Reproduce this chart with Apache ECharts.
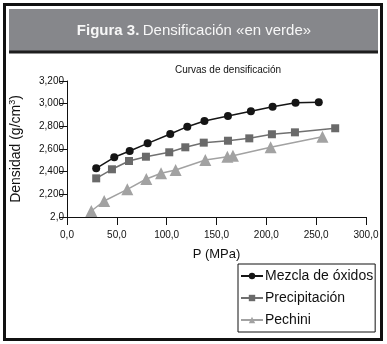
<!DOCTYPE html>
<html>
<head>
<meta charset="utf-8">
<script src="https://cdn.jsdelivr.net/npm/echarts@6/dist/echarts.min.js"></script>
<style>
html,body{margin:0;padding:0;background:#fff;}
#c{width:387px;height:344px;}
</style>
</head>
<body>
<div id="c"></div>
<script>
// Data
var mezclaP = [29.3, 47.4, 62.9, 80.9, 103.6, 120.7, 137.9, 161.5, 184.5, 206.3, 229.3, 252.6];
var mezclaD = [2430, 2527, 2582, 2650, 2732, 2797, 2847, 2891, 2933, 2973, 3009, 3012];

var precipP = [29.3, 45.1, 62.2, 79.2, 102.6, 118.7, 137.2, 161.5, 182.9, 205.6, 228.7, 269.1];
var precipD = [2341, 2421, 2494, 2532, 2571, 2615, 2656, 2673, 2694, 2730, 2747, 2783];

var pechiniP = [24.4, 37.3, 60.5, 79.6, 94.4, 109.0, 138.8, 160.9, 166.5, 204.3, 256.3];
var pechiniD = [2053, 2141, 2244, 2335, 2386, 2415, 2503, 2532, 2541, 2615, 2709];

var seriesNames = ['Mezcla de óxidos', 'Precipitación', 'Pechini'];
var xTickLabels = ['0,0', '50,0', '100,0', '150,0', '200,0', '250,0', '300,0'];
var yTickLabels = ['2,0', '2,200', '2,400', '2,600', '2,800', '3,000', '3,200'];

function pairs(xs, ys) { return xs.map(function (x, i) { return [x, ys[i]]; }); }

var FONT = '"Liberation Sans", Arial, sans-serif';
var chart = echarts.init(document.getElementById('c'), null, {renderer: 'canvas'});

chart.setOption({
  animation: false,
  backgroundColor: '#fff',
  textStyle: {fontFamily: FONT},
  title: {
    text: 'Curvas de densificación',
    left: 223, top: 60, textAlign: 'center',
    textStyle: {fontSize: 10, fontWeight: 'normal', color: '#111', fontFamily: FONT}
  },
  grid: {left: 62, right: 21, top: 81, bottom: 127, containLabel: false},
  xAxis: {
    type: 'value', min: 0, max: 300, interval: 50,
    name: 'P (MPa)', nameLocation: 'middle', nameGap: 31,
    nameTextStyle: {fontSize: 13, color: '#111', fontFamily: FONT},
    axisLine: {show: true, lineStyle: {color: '#111', width: 1}},
    axisTick: {show: true, inside: false, length: 8, lineStyle: {color: '#111'}},
    axisLabel: {
      fontSize: 10, color: '#111', margin: 13, fontFamily: FONT,
      formatter: function (v) { return xTickLabels[Math.round(v / 50)]; }
    },
    splitLine: {show: false}
  },
  yAxis: {
    type: 'value', min: 2000, max: 3200, interval: 200,
    name: 'Densidad (g/cm{sup|3})', nameLocation: 'middle', nameGap: 42, nameRotate: 90,
    nameTextStyle: {
      fontSize: 14, color: '#111', fontFamily: FONT,
      rich: {sup: {fontSize: 9, verticalAlign: 'top', padding: [0, 0, 8, 0], color: '#111'}}
    },
    axisLine: {show: true, lineStyle: {color: '#111', width: 1}},
    axisTick: {show: true, inside: false, length: 8, lineStyle: {color: '#111'}},
    axisLabel: {
      fontSize: 10, color: '#111', margin: 3, fontFamily: FONT,
      formatter: function (v) { return yTickLabels[Math.round((v - 2000) / 200)]; }
    },
    splitLine: {show: false}
  },
  legend: {
    orient: 'vertical', left: 238, top: 264,
    itemWidth: 22, itemHeight: 8, itemGap: 8,
    padding: [5, 2, 5, 2],
    borderColor: '#111', borderWidth: 1,
    textStyle: {fontSize: 14, color: '#111', fontFamily: FONT, padding: [0, 0, 0, -3]},
    data: seriesNames
  },
  series: [
    {
      name: seriesNames[0], type: 'line', data: pairs(mezclaP, mezclaD),
      symbol: 'circle', symbolSize: 8,
      itemStyle: {color: '#151515'}, lineStyle: {color: '#151515', width: 1.5}
    },
    {
      name: seriesNames[1], type: 'line', data: pairs(precipP, precipD),
      symbol: 'rect', symbolSize: 8,
      itemStyle: {color: '#6a6a6a'}, lineStyle: {color: '#707070', width: 1.5}
    },
    {
      name: seriesNames[2], type: 'line', data: pairs(pechiniP, pechiniD),
      symbol: 'triangle', symbolSize: 12,
      itemStyle: {color: '#a2a2a2'}, lineStyle: {color: '#a2a2a2', width: 1.5}
    }
  ],
  graphic: [
    {type: 'rect', shape: {x: 4.5, y: 4.5, width: 377, height: 335},
     style: {fill: null, stroke: '#111', lineWidth: 3}, z: 100},
    {type: 'rect', shape: {x: 9, y: 9, width: 369, height: 42},
     style: {fill: '#86878b'}, z: 100},
    {type: 'rect', shape: {x: 9, y: 50.5, width: 369, height: 3},
     style: {fill: '#1e1e1e'}, z: 100},
    {type: 'text', x: 194, y: 31, z: 101,
     style: {
       text: '{b|Figura 3.} {n|Densificación «en verde»}',
       align: 'center', verticalAlign: 'middle',
       rich: {
         b: {fontSize: 15, fontWeight: 'bold', fill: '#f7f7f7', fontFamily: FONT},
         n: {fontSize: 15, fontWeight: 'normal', fill: '#f7f7f7', fontFamily: FONT}
       }
     }}
  ]
});
</script>
</body>
</html>
